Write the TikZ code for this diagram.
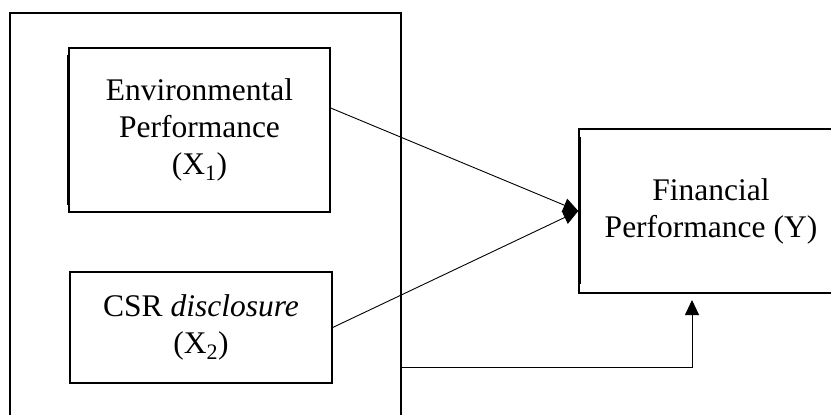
\documentclass[tikz,border=0pt]{standalone}
\usepackage{fontspec}
\setmainfont{Liberation Serif}
\usetikzlibrary{arrows.meta,calc}
\begin{document}
\begin{tikzpicture}[x=1bp,y=-1bp,
  box/.style={draw, line width=1.4bp, inner sep=0pt, align=center,
    font=\fontsize{31.5bp}{37bp}\selectfont},
  conn/.style={line width=0.9bp},
  arr/.style={conn, -{Triangle[length=15bp,width=14bp]}}]
\useasboundingbox (0,0) rectangle (831,414);
\clip (0,0) rectangle (831,414);
\fill[white] (0,0) rectangle (831,414);
\node[box, line width=1.2bp, minimum width=391bp, minimum height=427bp] (outer) at (205.5,226.5) {};
\node[box, minimum width=261bp, minimum height=164bp] (env) at (199.5,130)
  {Environmental\\Performance\\(X\textsubscript{1})};
\node[box, minimum width=262bp, minimum height=111bp] (csr) at (201,327.5)
  {CSR \textit{disclosure}\\(X\textsubscript{2})};
\node[box, minimum width=264bp, minimum height=164bp] (fin) at (711,211)
  {Financial\\Performance (Y)};
% thickened left edges
\draw[line width=2.2bp] ([yshift=-8bp]env.north west) -- ([yshift=8bp]env.south west);
\draw[line width=2bp] ([xshift=2bp,yshift=-9bp]fin.north west) -- ([xshift=2bp,yshift=10bp]fin.south west);
% connectors
\draw[arr] ([yshift=22bp]env.east) -- (fin.west);
\draw[arr] (csr.east) -- (fin.west);
\coordinate (corner) at (692,367);
\coordinate (tip) at (692,300);
\draw[arr] (outer.east |- corner) -- (corner) -- (tip);
\end{tikzpicture}
\end{document}
